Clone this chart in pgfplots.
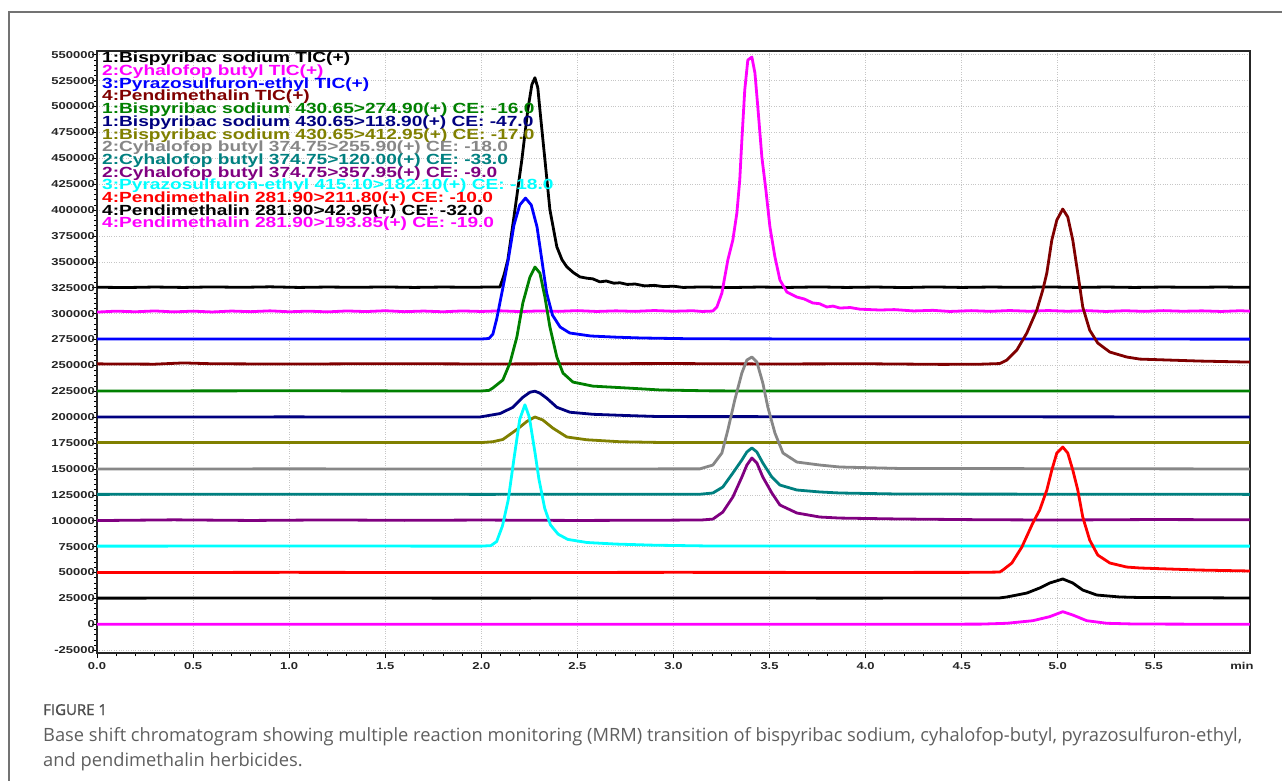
\documentclass[border=0pt]{standalone}
\usepackage{pgfplots}
\pgfplotsset{compat=1.18}
\usepackage{fontspec}
\setmainfont{Open Sans}
\newfontfamily\chromfont[FakeStretch=1.3]{Liberation Sans}
\newfontfamily\figfont[FakeBold=1.2]{Open Sans}
\newcommand\legfont{\chromfont\bfseries\fontsize{14.7}{12.7}\selectfont
  \lineskiplimit=-50pt\relax\lineskip=0pt\relax}

\definecolor{cmaroon}{RGB}{128,0,0}
\definecolor{cgreen}{RGB}{0,128,0}
\definecolor{cnavy}{RGB}{0,0,128}
\definecolor{colive}{RGB}{128,128,0}
\definecolor{cgray}{RGB}{135,135,135}
\definecolor{cteal}{RGB}{0,128,128}
\definecolor{cpurple}{RGB}{128,0,128}
\definecolor{cmagenta}{RGB}{255,0,255}
\definecolor{ccyan}{RGB}{0,255,255}
\definecolor{cblue}{RGB}{0,0,255}
\definecolor{cred}{RGB}{255,0,0}
\definecolor{captxt}{RGB}{95,95,95}

\begin{document}
\begin{tikzpicture}
\useasboundingbox (0,0) rectangle (1282pt,-780pt);
\fill[white] (0,0) rectangle (1282pt,-780pt);
% outer figure frame (only top and left edge visible)
\draw[black!55, line width=1.4pt] (9pt,-782pt) -- (9pt,-12pt) -- (1284pt,-12pt);

\begin{axis}[
    at={(97pt,-51pt)}, anchor=north west,
    scale only axis, width=1153pt, height=602pt,
    xmin=0, xmax=6, ymin=-27700, ymax=553600,
    scaled y ticks=false, scaled x ticks=false,
    xtick={0,0.5,1,1.5,2,2.5,3,3.5,4,4.5,5,5.5},
    xticklabels={0.0,0.5,1.0,1.5,2.0,2.5,3.0,3.5,4.0,4.5,5.0,5.5},
    ytick={-25000,0,25000,50000,75000,100000,125000,150000,175000,200000,225000,250000,
           275000,300000,325000,350000,375000,400000,425000,450000,475000,500000,525000,550000},
    yticklabels={-25000,0,25000,50000,75000,100000,125000,150000,175000,200000,225000,250000,
           275000,300000,325000,350000,375000,400000,425000,450000,475000,500000,525000,550000},
    extra x ticks={6}, extra x tick labels={min},
    extra x tick style={grid=none, major tick length=0pt,
        xticklabel style={xshift=-8pt, yshift=-5pt}},
    minor x tick num=4, minor y tick num=4,
    tick pos=left, tick align=outside,
    major tick length=5pt, minor tick length=3pt,
    tick style={black, line width=0.7pt},
    axis line style={black!85, line width=1.2pt},
    grid=major,
    major grid style={gray!45, dotted, line width=0.7pt},
    tick label style={font=\chromfont\bfseries\fontsize{10}{10}\selectfont, text=black!85},
    yticklabel style={inner sep=0pt, xshift=3pt},
    xticklabel style={inner sep=0pt, yshift=-4pt},
    every axis plot/.append style={line width=2.8pt, line join=round, no markers},
]
% 1: Bispyribac sodium TIC
\addplot[black] coordinates {
(0,325500)(0.15,325200)(0.3,325700)(0.45,325300)(0.6,325800)(0.75,325400)(0.9,325900)
(1.05,325300)(1.2,325700)(1.35,325400)(1.5,325800)(1.65,325300)(1.8,325700)(1.95,325400)
(2.05,325800)(2.097,325700)(2.118,337300)(2.138,351800)(2.175,400300)(2.211,448600)
(2.242,496800)(2.263,521000)(2.279,527800)(2.294,518100)(2.305,496800)(2.331,448600)
(2.357,400300)(2.393,364500)(2.42,352000)(2.445,345200)(2.48,339500)(2.513,335500)
(2.55,334200)(2.58,333600)(2.617,330700)(2.65,331500)(2.69,329400)(2.721,329800)
(2.76,328200)(2.80,328600)(2.85,326800)(2.90,327300)(2.95,326100)(3.0,326500)
(3.05,325300)(3.15,325800)(3.3,325200)(3.45,325700)(3.6,325300)(3.75,325800)(3.9,325300)
(4.05,325700)(4.2,325200)(4.35,325800)(4.5,325300)(4.65,325700)(4.8,325400)(4.95,325800)
(5.1,325300)(5.25,325700)(5.4,325300)(5.55,325700)(5.7,325400)(5.85,325700)(6.0,325400)
};
% 2: Cyhalofop butyl TIC
\addplot[cmagenta] coordinates {
(0,301500)(0.1,302400)(0.2,301800)(0.3,302600)(0.4,301700)(0.5,302400)(0.6,301600)
(0.7,302500)(0.8,301900)(0.9,302700)(1.0,301800)(1.1,302400)(1.2,301700)(1.3,302600)
(1.4,302000)(1.5,302800)(1.6,301900)(1.7,302500)(1.8,301800)(1.9,302600)(2.0,302100)
(2.1,302700)(2.2,302000)(2.3,302600)(2.4,302200)(2.5,302900)(2.6,302100)(2.7,302700)
(2.8,302200)(2.9,303000)(3.0,302300)(3.1,302800)(3.15,302100)(3.205,302500)
(3.226,306400)(3.252,319900)(3.267,335400)(3.283,351800)(3.309,371100)(3.330,397200)
(3.345,429100)(3.356,467700)(3.371,516000)(3.387,544900)(3.408,547800)(3.424,532300)
(3.439,499500)(3.460,451200)(3.481,419300)(3.502,383700)(3.528,354800)(3.554,332500)
(3.590,320900)(3.642,316000)(3.68,314200)(3.725,310300)(3.76,309600)(3.798,306400)
(3.83,307300)(3.866,305400)(3.92,305900)(3.97,304300)(4.074,303500)(4.15,303900)
(4.25,302600)(4.35,303200)(4.438,302100)(4.55,302900)(4.65,302200)(4.75,303000)
(4.85,302300)(4.95,303000)(5.05,302300)(5.15,302900)(5.25,302100)(5.35,302800)
(5.45,302200)(5.55,302900)(5.65,302300)(5.75,302700)(5.85,302100)(5.95,302800)(6.0,302400)
};
% 3: Pyrazosulfuron-ethyl TIC
\addplot[cblue] coordinates {
(0,275500)(1.0,275600)(2.0,275500)(2.04,276000)(2.06,280200)(2.08,294800)(2.11,322800)
(2.14,351800)(2.17,385600)(2.20,404900)(2.23,411600)(2.26,404900)(2.29,383700)
(2.315,351800)(2.34,320000)(2.37,298700)(2.41,287100)(2.46,281300)(2.57,278400)
(2.70,277300)(2.83,276500)(3.10,275700)(4.0,275500)(6.0,275400)
};
% 4: Pendimethalin TIC
\addplot[cmaroon] coordinates {
(0,251500)(0.3,251200)(0.45,252400)(0.6,251600)(1.0,251300)(1.5,251700)(2.0,251400)
(2.5,251600)(3.0,251800)(3.5,251400)(4.0,251600)(4.4,251000)(4.6,251200)(4.698,251800)
(4.735,255200)(4.787,264900)(4.839,281300)(4.891,303500)(4.922,322800)(4.943,339200)
(4.969,371100)(4.995,390400)(5.026,401000)(5.052,393300)(5.078,371100)(5.104,339200)
(5.130,306400)(5.166,284100)(5.208,271600)(5.271,262900)(5.359,258100)(5.427,256100)
(5.739,254200)(6.0,253200)
};
% 1: Bispyribac sodium 430.65>274.90
\addplot[cgreen] coordinates {
(0,225300)(1.0,225500)(2.0,225300)(2.04,225900)(2.06,228200)(2.112,235900)(2.149,252300)
(2.185,277400)(2.216,310200)(2.253,335300)(2.279,345000)(2.305,339200)(2.331,316000)
(2.357,287100)(2.393,258100)(2.425,242600)(2.477,233900)(2.581,230000)(2.758,228200)
(2.929,226300)(3.2,225400)(6.0,225300)
};
% 1: Bispyribac sodium 430.65>118.90
\addplot[cnavy] coordinates {
(0,200200)(1.0,200300)(1.993,200200)(2.097,203500)(2.164,209500)(2.216,219200)
(2.253,224100)(2.279,225100)(2.305,223200)(2.341,218300)(2.393,209600)(2.461,204800)
(2.581,202800)(2.758,201600)(2.929,200600)(6.0,200200)
};
% 1: Bispyribac sodium 430.65>412.95
\addplot[colive] coordinates {
(0,175500)(1.0,175600)(2.0,175500)(2.06,176300)(2.112,178500)(2.185,188100)(2.237,195900)
(2.279,200200)(2.320,197300)(2.372,189500)(2.445,180900)(2.549,178200)(2.721,176300)
(2.929,175600)(6.0,175500)
};
% 2: Cyhalofop butyl 374.75>255.90
\addplot[cgray] coordinates {
(0,150000)(1.0,150100)(2.0,150000)(3.137,150100)(3.205,153800)(3.252,165400)
(3.283,187600)(3.319,216600)(3.356,242700)(3.382,255200)(3.408,258100)(3.434,253300)
(3.465,233000)(3.491,209800)(3.528,184700)(3.570,165400)(3.642,156700)(3.762,153800)
(3.866,151900)(4.178,150500)(6.0,150000)
};
% 2: Cyhalofop butyl 374.75>120.00
\addplot[cteal] coordinates {
(0,125500)(1.0,125600)(2.0,125500)(3.137,125600)(3.205,126800)(3.257,132600)
(3.309,146100)(3.356,158700)(3.382,166400)(3.408,170300)(3.434,166400)(3.465,155800)
(3.512,142200)(3.554,134500)(3.642,129700)(3.762,127800)(3.866,126800)(4.178,125800)
(6.0,125500)
};
% 2: Cyhalofop butyl 374.75>357.95
\addplot[cpurple] coordinates {
(0,100200)(0.4,100900)(0.8,100300)(1.2,100800)(1.6,100400)(2.0,100700)(2.5,100300)
(3.0,100600)(3.15,100800)(3.205,101600)(3.257,108400)(3.309,122900)(3.356,142200)
(3.382,153800)(3.408,160600)(3.434,155800)(3.465,142200)(3.512,126800)(3.554,115200)
(3.642,107500)(3.762,103600)(3.866,102600)(4.178,101700)(4.6,101000)(5.0,100700)
(5.5,101200)(6.0,100900)
};
% 3: Pyrazosulfuron-ethyl 415.10>182.10
\addplot[ccyan] coordinates {
(0,75500)(1.0,75600)(2.0,75500)(2.05,76000)(2.08,80000)(2.11,95000)(2.14,120000)
(2.17,160000)(2.20,198000)(2.227,212000)(2.25,200000)(2.28,165000)(2.30,140000)
(2.33,112000)(2.36,96000)(2.40,87000)(2.45,82000)(2.55,79000)(2.70,77500)(2.9,76400)
(3.2,75600)(6.0,75500)
};
% 4: Pendimethalin 281.90>211.80
\addplot[cred] coordinates {
(0,50000)(1.0,50200)(2.0,50000)(3.0,50200)(4.0,50100)(4.6,50200)(4.698,50500)
(4.714,52400)(4.761,59200)(4.813,74600)(4.870,97800)(4.906,110400)(4.943,129700)
(4.969,149000)(4.995,165400)(5.026,171200)(5.052,165400)(5.078,149000)(5.104,129700)
(5.130,103600)(5.166,81400)(5.208,66900)(5.271,59200)(5.359,55300)(5.427,54400)
(5.739,52400)(6.0,51500)
};
% 4: Pendimethalin 281.90>42.95
\addplot[black] coordinates {
(0,25300)(1.0,25400)(2.0,25300)(3.0,25400)(4.0,25300)(4.698,25500)(4.735,26400)
(4.839,30200)(4.906,35100)(4.958,39900)(5.026,43800)(5.078,39900)(5.130,33100)
(5.203,28300)(5.323,26400)(5.427,25900)(6.0,25400)
};
% 4: Pendimethalin 281.90>193.85
\addplot[cmagenta] coordinates {
(0,0)(2.0,100)(4.0,0)(4.6,200)(4.735,1000)(4.870,3500)(4.958,7400)(5.026,12200)
(5.078,9000)(5.151,3500)(5.255,1000)(5.4,300)(6.0,0)
};

\node[anchor=north west, inner sep=0pt, align=left, xshift=5pt, yshift=-1pt,
      font=\legfont]
  at (rel axis cs:0,1) {%
\textcolor{black}{1:Bispyribac sodium TIC(+)}\\
\textcolor{cmagenta}{2:Cyhalofop butyl TIC(+)}\\
\textcolor{cblue}{3:Pyrazosulfuron-ethyl TIC(+)}\\
\textcolor{cmaroon}{4:Pendimethalin TIC(+)}\\
\textcolor{cgreen}{1:Bispyribac sodium 430.65>274.90(+) CE: -16.0}\\
\textcolor{cnavy}{1:Bispyribac sodium 430.65>118.90(+) CE: -47.0}\\
\textcolor{colive}{1:Bispyribac sodium 430.65>412.95(+) CE: -17.0}\\
\textcolor{cgray}{2:Cyhalofop butyl 374.75>255.90(+) CE: -18.0}\\
\textcolor{cteal}{2:Cyhalofop butyl 374.75>120.00(+) CE: -33.0}\\
\textcolor{cpurple}{2:Cyhalofop butyl 374.75>357.95(+) CE: -9.0}\\
\textcolor{ccyan}{3:Pyrazosulfuron-ethyl 415.10>182.10(+) CE: -18.0}\\
\textcolor{cred}{4:Pendimethalin 281.90>211.80(+) CE: -10.0}\\
\textcolor{black}{4:Pendimethalin 281.90>42.95(+) CE: -32.0}\\
\textcolor{cmagenta}{4:Pendimethalin 281.90>193.85(+) CE: -19.0}};
\end{axis}

% caption
\node[anchor=base west, inner sep=0pt, text=black!70, font=\figfont\fontsize{15}{15}\selectfont]
  at (43pt,-715pt) {FIGURE 1};
\node[anchor=base west, inner sep=0pt, text=captxt, font=\fontsize{18.3}{18.3}\selectfont]
  at (43pt,-741pt) {Base shift chromatogram showing multiple reaction monitoring (MRM) transition of bispyribac sodium, cyhalofop-butyl, pyrazosulfuron-ethyl,};
\node[anchor=base west, inner sep=0pt, text=captxt, font=\fontsize{18.3}{18.3}\selectfont]
  at (43pt,-766pt) {and pendimethalin herbicides.};
\end{tikzpicture}
\end{document}
